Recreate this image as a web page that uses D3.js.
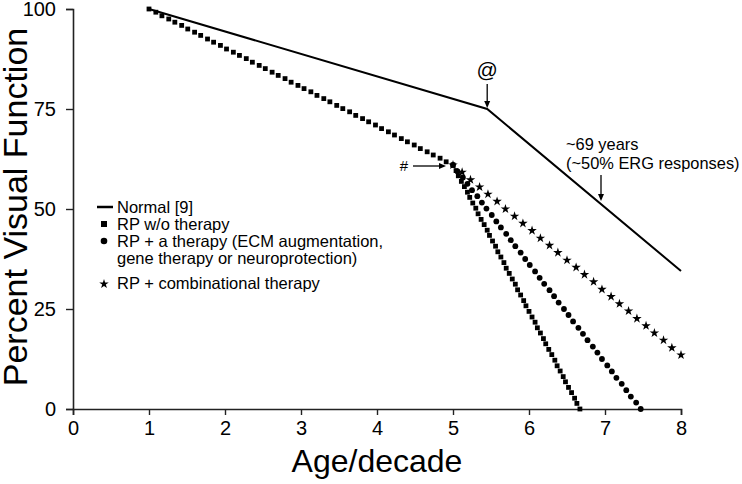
<!DOCTYPE html>
<html>
<head>
<meta charset="utf-8">
<script src="https://cdn.jsdelivr.net/npm/d3@7"></script>
<style>
  body { margin: 0; background: #fff; }
  svg { display: block; }
  text { font-family: "Liberation Sans", Arial, sans-serif; fill: #000; }
</style>
</head>
<body>
<svg id="chart" width="742" height="484"></svg>
<script>
// ---- data ----
const xTicks = [0, 1, 2, 3, 4, 5, 6, 7, 8];
const yTicks = [0, 25, 50, 75, 100];

const normal = [[1.00, 100.0], [5.45, 75.0], [8.00, 34.5]];

const rpNoTherapy = [
  [1.00,100.0],[1.09,99.2],[1.17,98.3],[1.26,97.5],[1.34,96.7],[1.43,95.9],[1.51,95.0],[1.60,94.2],
  [1.68,93.4],[1.77,92.5],[1.85,91.7],[1.94,90.9],[2.02,90.0],[2.11,89.2],[2.19,88.4],[2.28,87.6],
  [2.36,86.7],[2.45,85.9],[2.53,85.1],[2.62,84.2],[2.70,83.4],[2.79,82.6],[2.87,81.7],[2.96,80.9],
  [3.04,80.1],[3.13,79.3],[3.21,78.4],[3.30,77.6],[3.38,76.8],[3.47,75.9],[3.55,75.1],[3.64,74.3],
  [3.72,73.4],[3.81,72.6],[3.89,71.8],[3.98,71.0],[4.06,70.1],[4.15,69.3],[4.23,68.5],[4.32,67.6],
  [4.40,66.8],[4.49,66.0],[4.57,65.1],[4.66,64.3],[4.74,63.5],[4.83,62.7],[4.91,61.8],[5.00,61.0],
  [5.04,59.6],[5.07,58.3],[5.11,56.9],[5.15,55.6],[5.19,54.2],[5.22,52.9],[5.26,51.5],[5.30,50.2],
  [5.33,48.8],[5.37,47.4],[5.41,46.1],[5.45,44.7],[5.48,43.4],[5.52,42.0],[5.56,40.7],[5.59,39.3],
  [5.63,38.0],[5.67,36.6],[5.70,35.2],[5.74,33.9],[5.78,32.5],[5.82,31.2],[5.85,29.8],[5.89,28.5],
  [5.93,27.1],[5.96,25.8],[6.00,24.4],[6.04,23.0],[6.08,21.7],[6.11,20.3],[6.15,19.0],[6.19,17.6],
  [6.22,16.3],[6.26,14.9],[6.30,13.6],[6.34,12.2],[6.37,10.8],[6.41,9.5],[6.45,8.1],[6.48,6.8],
  [6.52,5.4],[6.56,4.1],[6.60,2.7],[6.63,1.4],[6.67,0.0]
];

const rpOneTherapy = [
  [5.00,61.0],[5.06,59.4],[5.13,57.9],[5.19,56.3],[5.25,54.7],[5.32,53.2],[5.38,51.6],[5.44,50.1],
  [5.51,48.5],[5.57,46.9],[5.63,45.4],[5.70,43.8],[5.76,42.2],[5.82,40.7],[5.89,39.1],[5.95,37.5],
  [6.01,36.0],[6.08,34.4],[6.14,32.8],[6.20,31.3],[6.27,29.7],[6.33,28.2],[6.39,26.6],[6.46,25.0],
  [6.52,23.5],[6.58,21.9],[6.65,20.3],[6.71,18.8],[6.77,17.2],[6.84,15.6],[6.90,14.1],[6.96,12.5],
  [7.03,10.9],[7.09,9.4],[7.15,7.8],[7.22,6.3],[7.28,4.7],[7.34,3.1],[7.41,1.6],[7.47,0.0]
];

const rpCombined = [
  [5.00,61.0],[5.12,59.2],[5.23,57.3],[5.35,55.5],[5.46,53.7],[5.58,51.9],[5.69,50.0],[5.81,48.2],
  [5.92,46.4],[6.04,44.6],[6.15,42.7],[6.27,40.9],[6.38,39.1],[6.50,37.2],[6.62,35.4],[6.73,33.6],
  [6.85,31.8],[6.96,29.9],[7.08,28.1],[7.19,26.3],[7.31,24.5],[7.42,22.6],[7.54,20.8],[7.65,19.0],
  [7.77,17.2],[7.88,15.3],[8.00,13.5]
];

const legendLabels = [
  ["Normal [9]"],
  ["RP w/o therapy"],
  ["RP + a therapy (ECM augmentation,", "gene therapy or neuroprotection)"],
  ["RP + combinational therapy"]
];

// ---- layout ----
const svg = d3.select("#chart");
const x = d3.scaleLinear().domain([0, 8]).range([73, 681]);
const y = d3.scaleLinear().domain([0, 100]).range([409, 9]);

// axes
const xAxis = svg.append("g").attr("transform", `translate(0,${y(0)})`)
  .call(d3.axisBottom(x).tickValues(xTicks).tickSize(6).tickPadding(6).tickFormat(d3.format("d")));
const yAxis = svg.append("g").attr("transform", `translate(${x(0)},0)`)
  .call(d3.axisLeft(y).tickValues(yTicks).tickSize(7).tickPadding(10).tickFormat(d3.format("d")));
[xAxis, yAxis].forEach(g => {
  g.select(".domain").attr("stroke", "#222").attr("stroke-width", 1.6);
  g.selectAll(".tick line").attr("stroke", "#222").attr("stroke-width", 1.4);
  g.selectAll(".tick text").style("font-size", "20px").attr("fill", "#000")
    .style("font-family", "'Liberation Sans', Arial, sans-serif");
});

// axis titles
svg.append("text").attr("x", 377).attr("y", 472).attr("text-anchor", "middle")
  .style("font-size", "32px").text("Age/decade");
svg.append("text").attr("transform", `translate(27,${207}) rotate(-90)`)
  .attr("text-anchor", "middle").style("font-size", "34px").text("Percent Visual Function");

// normal line
svg.append("path").datum(normal)
  .attr("d", d3.line().x(d => x(d[0])).y(d => y(d[1])))
  .attr("fill", "none").attr("stroke", "#000").attr("stroke-width", 2);

// markers
const sq = 4.8;
svg.append("g").selectAll("rect").data(rpNoTherapy).join("rect")
  .attr("x", d => x(d[0]) - sq / 2).attr("y", d => y(d[1]) - sq / 2)
  .attr("width", sq).attr("height", sq).attr("fill", "#000");
svg.append("g").selectAll("circle").data(rpOneTherapy).join("circle")
  .attr("cx", d => x(d[0])).attr("cy", d => y(d[1])).attr("r", 2.9).attr("fill", "#000");
const star = d3.symbol().type(d3.symbolStar).size(28);
svg.append("g").selectAll("path").data(rpCombined).join("path")
  .attr("transform", d => `translate(${x(d[0])},${y(d[1])})`)
  .attr("d", star).attr("fill", "#000");

// annotations
function arrow(x1, y1, x2, y2) {
  const g = svg.append("g");
  const ang = Math.atan2(y2 - y1, x2 - x1);
  const L = 7, W = 3;
  const bx = x2 - L * Math.cos(ang), by = y2 - L * Math.sin(ang);
  g.append("line").attr("x1", x1).attr("y1", y1).attr("x2", bx).attr("y2", by)
    .attr("stroke", "#000").attr("stroke-width", 1.3);
  g.append("path").attr("d",
    `M${x2},${y2}L${bx - W * Math.sin(ang)},${by + W * Math.cos(ang)}L${bx + W * Math.sin(ang)},${by - W * Math.cos(ang)}Z`)
    .attr("fill", "#000");
}
const kx = x(normal[1][0]), ky = y(normal[1][1]);
svg.append("text").attr("x", kx).attr("y", 77).attr("text-anchor", "middle")
  .style("font-size", "21px").text("@");
arrow(kx, 84, kx, ky - 1);

const hx = x(5.0) - 7, hy = 166;
svg.append("text").attr("x", 404).attr("y", hy + 5).attr("text-anchor", "middle")
  .style("font-size", "15px").text("#");
arrow(413, hy, hx, hy);

svg.append("text").attr("x", 566).attr("y", 150).style("font-size", "16.4px").text("~69 years");
svg.append("text").attr("x", 566).attr("y", 169).style("font-size", "16.4px").text("(~50% ERG responses)");
arrow(601, 175, 601, 201);

// legend
const lx = 104, tx = 117;
const rowBase = [213, 230, 247, 289];
const leg = svg.append("g");
legendLabels.forEach((lines, i) => {
  lines.forEach((t, j) => {
    leg.append("text").attr("x", tx).attr("y", rowBase[i] + j * 17)
      .style("font-size", "16.5px").text(t);
  });
});
leg.append("line").attr("x1", lx - 7).attr("x2", lx + 9).attr("y1", rowBase[0] - 6).attr("y2", rowBase[0] - 6)
  .attr("stroke", "#000").attr("stroke-width", 2.5);
leg.append("rect").attr("x", lx - 3).attr("y", rowBase[1] - 9).attr("width", 6).attr("height", 6).attr("fill", "#000");
leg.append("circle").attr("cx", lx).attr("cy", rowBase[2] - 6).attr("r", 3.3).attr("fill", "#000");
leg.append("path").attr("transform", `translate(${lx},${rowBase[3] - 5})`).attr("d", star).attr("fill", "#000");
</script>
</body>
</html>
